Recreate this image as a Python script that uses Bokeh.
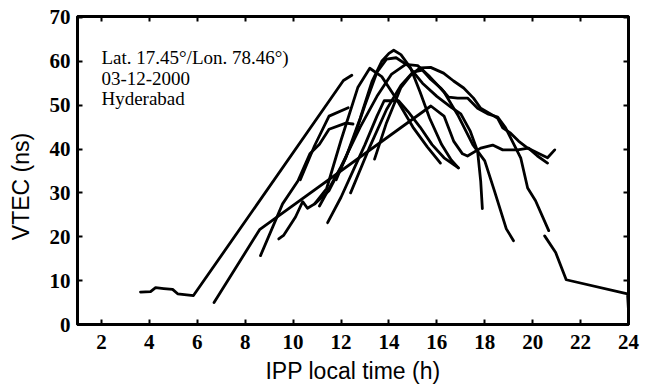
from bokeh.plotting import figure
from bokeh.models import Range1d, LinearAxis, FixedTicker, Label
from bokeh.embed import file_html
from bokeh.resources import INLINE

# ---------------- data ----------------
x_ticks = [2, 4, 6, 8, 10, 12, 14, 16, 18, 20, 22, 24]
y_ticks = [0, 10, 20, 30, 40, 50, 60, 70]

pass01_time = [3.63, 4.05, 4.26, 4.6, 4.97, 5.18, 5.84, 12.1, 12.45]
pass01_vtec = [7.4, 7.5, 8.4, 8.2, 8.0, 7.0, 6.6, 55.6, 56.8]

pass02_time = [6.7, 8.6, 15.75, 16.3, 16.7, 17.07, 17.28, 17.83, 18.33, 18.75, 19.37, 19.83, 20.2, 20.62]
pass02_vtec = [5.0, 21.6, 49.8, 47.5, 41.8, 38.9, 38.4, 40.2, 40.9, 39.8, 39.8, 40.2, 38.4, 36.8]

pass03_time = [9.4, 9.6, 10.1, 10.4, 10.6, 10.9, 11.4, 12.0, 12.7, 13.2, 13.7, 14.3, 15.0, 15.6, 16.15]
pass03_vtec = [19.5, 20.3, 24.5, 28.0, 26.5, 27.5, 31.0, 42.0, 54.0, 58.4, 56.5, 51.5, 45.0, 40.5, 36.8]

pass04_time = [11.44, 12.0, 12.5, 13.0, 13.5, 13.8, 14.4, 14.8, 15.3, 15.8, 16.3, 16.9]
pass04_vtec = [23.2, 29.0, 35.0, 41.0, 47.5, 51.0, 51.0, 48.5, 45.0, 41.0, 38.0, 35.7]

pass05_time = [13.4, 13.9, 14.5, 14.9, 15.3, 15.74, 16.28, 16.7, 17.12, 17.53, 17.83, 18.24,
               18.54, 18.75, 19.08, 19.41, 19.79, 20.21, 20.62, 20.92]
pass05_vtec = [37.7, 46.0, 54.0, 56.8, 58.5, 58.6, 57.3, 55.5, 53.9, 51.6, 49.3, 48.0,
               47.0, 44.8, 43.6, 41.8, 40.2, 39.1, 38.0, 39.8]

pass06_time = [10.9, 11.5, 12.2, 12.8, 13.3, 13.7, 14.0, 14.2, 14.5, 14.9, 15.3, 15.7, 16.2, 16.6, 16.9]
pass06_vtec = [27.5, 30.5, 38.0, 47.0, 55.5, 60.0, 61.8, 62.5, 61.5, 58.5, 53.0, 47.0, 41.0, 37.5, 35.7]

pass07_time = [11.8, 12.5, 13.0, 13.5, 13.9, 14.3, 14.8, 15.4, 16.0, 16.6, 17.0, 17.4, 17.7, 17.83, 17.9]
pass07_vtec = [33.0, 42.0, 50.0, 57.5, 60.5, 60.8, 59.0, 55.0, 52.0, 49.5, 48.0, 44.0, 39.5, 32.7, 26.4]

pass08_time = [11.1, 12.0, 12.8, 13.5, 14.1, 14.7, 15.2, 15.7, 16.3, 16.9, 17.5, 18.0, 18.4, 18.9, 19.2]
pass08_vtec = [27.0, 36.0, 45.0, 52.0, 57.0, 59.3, 59.0, 56.5, 53.0, 47.5, 41.0, 37.3, 30.5, 21.8, 19.1]

pass09_time = [12.4, 13.2, 13.9, 14.5, 15.0, 15.4, 15.74, 16.16, 16.49, 16.87, 17.28, 17.7, 18.12,
               18.54, 18.87, 19.5, 19.79, 20.12, 20.67]
pass09_vtec = [30.0, 40.5, 49.0, 54.5, 57.5, 58.0, 55.9, 53.9, 51.8, 51.6, 51.6, 49.3, 48.0,
               47.3, 44.8, 38.0, 31.1, 28.2, 21.4]

pass10_time = [20.5, 20.96, 21.4, 23.96, 24.0]
pass10_vtec = [20.2, 16.4, 10.2, 7.0, 3.2]

pass11_time = [8.64, 9.56, 10.2, 10.7, 11.1, 11.5, 12.2, 12.5]
pass11_vtec = [15.7, 27.5, 32.7, 38.9, 41.1, 44.5, 45.9, 45.7]

pass12_time = [10.3, 10.9, 11.5, 12.3]
pass12_vtec = [33.0, 40.8, 47.5, 49.4]

passes = [
    (pass01_time, pass01_vtec), (pass02_time, pass02_vtec), (pass03_time, pass03_vtec),
    (pass04_time, pass04_vtec), (pass05_time, pass05_vtec), (pass06_time, pass06_vtec),
    (pass07_time, pass07_vtec), (pass08_time, pass08_vtec), (pass09_time, pass09_vtec),
    (pass10_time, pass10_vtec), (pass11_time, pass11_vtec), (pass12_time, pass12_vtec),
]

info_lines = ["Lat. 17.45\u00b0/Lon. 78.46\u00b0)", "03-12-2000", "Hyderabad"]

# ---------------- figure ----------------
p = figure(width=650, height=391, x_range=Range1d(1, 24), y_range=Range1d(0, 70.2),
           output_backend="svg", toolbar_location=None,
           min_border_left=77, min_border_right=22, min_border_top=16, min_border_bottom=67)
p.background_fill_color = "white"
p.border_fill_color = "white"
p.xgrid.visible = False
p.ygrid.visible = False
p.outline_line_color = "black"
p.outline_line_width = 3

for t, v in passes:
    p.line(t, v, line_color="black", line_width=2.8, line_join="round", line_cap="round")

def style_axis(ax, ticks):
    ax.ticker = FixedTicker(ticks=ticks)
    ax.axis_line_color = "black"
    ax.axis_line_width = 3
    ax.major_tick_line_color = "black"
    ax.major_tick_line_width = 2
    ax.major_tick_in = 5
    ax.major_tick_out = 0
    ax.minor_tick_in = 0
    ax.minor_tick_out = 0
    ax.major_label_text_font = "Liberation Serif"
    ax.major_label_text_font_style = "bold"
    ax.major_label_text_font_size = "21px"
    ax.major_label_text_color = "black"

style_axis(p.xaxis[0], x_ticks)
style_axis(p.yaxis[0], y_ticks)
p.xaxis[0].major_label_standoff = 10
p.yaxis[0].major_label_standoff = 7

p.xaxis[0].axis_label = "IPP local time (h)"
p.xaxis[0].axis_label_text_font = "Liberation Sans"
p.xaxis[0].axis_label_text_font_style = "normal"
p.xaxis[0].axis_label_text_font_size = "23px"
p.xaxis[0].axis_label_text_color = "black"
p.xaxis[0].axis_label_standoff = 6

p.yaxis[0].axis_label = "VTEC (ns)" + "\u00a0" * 5
p.yaxis[0].axis_label_text_font = "Liberation Sans"
p.yaxis[0].axis_label_text_font_style = "normal"
p.yaxis[0].axis_label_text_font_size = "23px"
p.yaxis[0].axis_label_text_color = "black"
p.yaxis[0].axis_label_standoff = 13

top_ax = LinearAxis()
style_axis(top_ax, x_ticks)
top_ax.major_label_overrides = {t: "" for t in x_ticks}
top_ax.major_label_text_font_size = "1px"
top_ax.major_label_standoff = 0
p.add_layout(top_ax, "above")

right_ax = LinearAxis()
style_axis(right_ax, y_ticks)
right_ax.major_label_overrides = {t: "" for t in y_ticks}
right_ax.major_label_text_font_size = "1px"
right_ax.major_label_standoff = 0
p.add_layout(right_ax, "right")

for i, line in enumerate(info_lines):
    p.add_layout(Label(x=2.0, y=60.8 - 4.65 * i, text=line, text_font="Liberation Serif",
                       text_font_size="19px", text_color="black", text_baseline="alphabetic"))

open("out.html", "w").write(file_html(p, INLINE))
